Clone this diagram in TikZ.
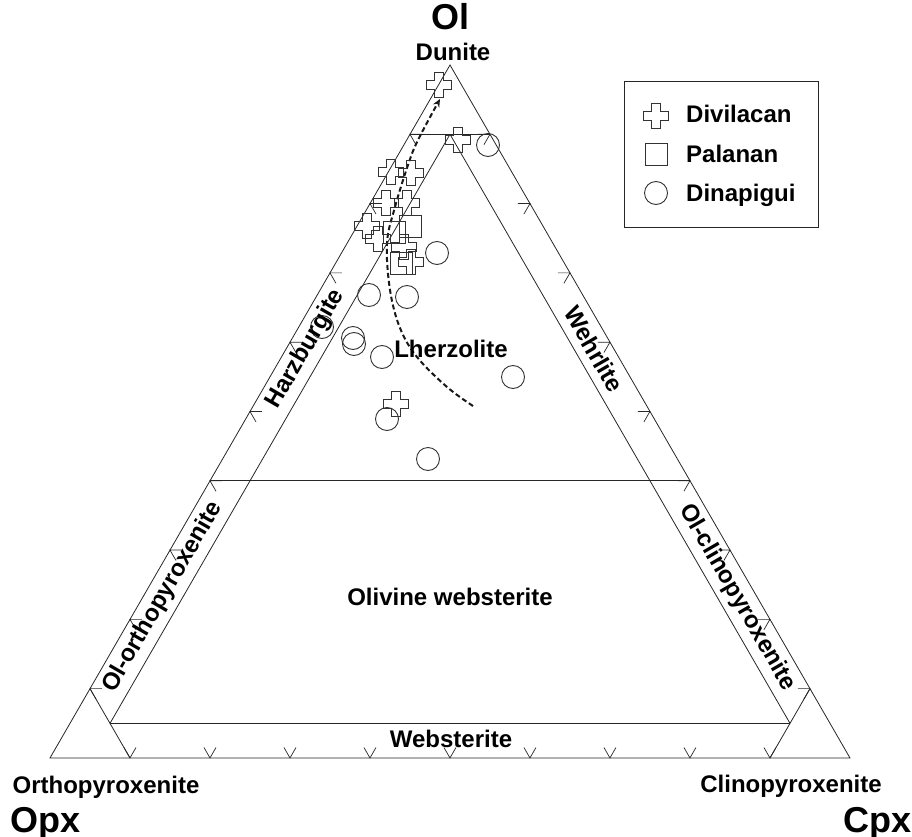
\documentclass[tikz,border=0pt]{standalone}
\usepackage{fontspec}
\setmainfont{Liberation Sans}
\usetikzlibrary{arrows.meta}
\tikzset{frame/.style={black!85, line width=0.8pt}, tick/.style={black!85, line width=0.7pt}}
\tikzset{field/.style={font=\bfseries\fontsize{24}{24}\selectfont, inner sep=0pt},
  apexlab/.style={font=\bfseries\fontsize{36}{36}\selectfont, inner sep=0pt}}
\tikzset{dina/.style={circle, draw=black!80, line width=0.9pt, minimum size=23pt, inner sep=0pt},
  pala/.style={rectangle, draw=black!80, line width=0.9pt, minimum size=22pt, inner sep=0pt},
  divi/.pic={\draw[black!80, line width=0.9pt] (-4.25,-12.5) -- (4.25,-12.5) -- (4.25,-4.25) -- (12.5,-4.25)
    -- (12.5,4.25) -- (4.25,4.25) -- (4.25,12.5) -- (-4.25,12.5) -- (-4.25,4.25) -- (-12.5,4.25)
    -- (-12.5,-4.25) -- (-4.25,-4.25) -- cycle;},
  trend/.style={black!90, line width=2pt, dash pattern=on 5pt off 3pt, -{Stealth[length=8pt,width=7pt]}}}

\begin{document}
\begin{tikzpicture}[x=1pt, y=-1pt]
  \useasboundingbox (0,0) rectangle (912,837);
  % corners
  \coordinate (ol) at (450,65);
  \coordinate (opx) at (50,758);
  \coordinate (cpx) at (850,758);
  \draw[frame] (ol) -- (opx) -- (cpx) -- cycle;
  % field boundaries
  \coordinate (l90) at (barycentric cs:ol=0.9,opx=0.1,cpx=0);
  \coordinate (r90) at (barycentric cs:ol=0.9,opx=0,cpx=0.1);
  \coordinate (t90) at (barycentric cs:ol=0.9,opx=0.05,cpx=0.05);
  \coordinate (l40) at (barycentric cs:ol=0.4,opx=0.6,cpx=0);
  \coordinate (r40) at (barycentric cs:ol=0.4,opx=0,cpx=0.6);
  \coordinate (l5) at (barycentric cs:ol=0.05,opx=0.9,cpx=0.05);
  \coordinate (r5) at (barycentric cs:ol=0.05,opx=0.05,cpx=0.9);
  \coordinate (opxa) at (barycentric cs:ol=0.1,opx=0.9,cpx=0);
  \coordinate (opxb) at (barycentric cs:ol=0,opx=0.9,cpx=0.1);
  \coordinate (cpxa) at (barycentric cs:ol=0.1,opx=0,cpx=0.9);
  \coordinate (cpxb) at (barycentric cs:ol=0,opx=0.1,cpx=0.9);
  \draw[frame] (l90) -- (r90);
  \draw[frame] (l40) -- (r40);
  \draw[frame] (l5) -- (r5);
  \draw[frame] (t90) -- (l5);
  \draw[frame] (t90) -- (r5);
  \draw[frame] (opxa) -- (opxb);
  \draw[frame] (cpxa) -- (cpxb);
  % ticks
  \foreach \i in {1,...,9}{
    \pgfmathtruncatemacro{\j}{10-\i}
    \draw[tick] (barycentric cs:ol=\i,opx=\j,cpx=0) +(12,0) -- +(0,0) -- +(6,10.4);
    \draw[tick] (barycentric cs:ol=\i,opx=0,cpx=\j) +(-12,0) -- +(0,0) -- +(-6,10.4);
    \draw[tick] (barycentric cs:ol=0,opx=\j,cpx=\i) +(-6,-10.4) -- +(0,0) -- +(6,-10.4);
  }
  % trend
  \draw[trend] plot[smooth, tension=0.6] coordinates {(473,406) (447,387) (417,357) (400,328) (390,290)
    (387,243) (395,207) (408,165) (418,140) (440,99)};
  % samples
  \foreach \x/\y [count=\n] in {488/145, 437/253, 369/295, 407/297, 322/327, 353/338, 354/344,
    382/357, 513/377, 387/419, 428/459}
    \node[dina] (d\n) at (\x,\y) {};
  \foreach \x/\y [count=\n] in {410/226, 394/232, 401/263}
    \node[pala] (p\n) at (\x,\y) {};
  \foreach \x/\y [count=\n] in {439/85, 458/140, 391/172, 411/173, 386/203, 407/203, 367/226,
    378/239, 404/247, 411/262, 396/404}
    \pic (v\n) at (\x,\y) {divi};
  % labels
  \node[apexlab, anchor=base] (olname) at (450,30) {Ol};
  \node[apexlab, anchor=base west] (opxname) at (10,832) {Opx};
  \node[apexlab, anchor=base east] (cpxname) at (912,832) {Cpx};
  \node[field, anchor=base] (dun) at (453,61) {Dunite};
  \node[field, anchor=base] (orth) at (106,793) {Orthopyroxenite};
  \node[field, anchor=base] (clin) at (791,792) {Clinopyroxenite};
  \node[field, anchor=base] (lhz) at (451,357) {Lherzolite};
  \node[field, anchor=base] (olweb) at (450,605) {Olivine websterite};
  \node[field, anchor=base] (web) at (451,747) {Websterite};
  \node[field, rotate=60] (hzb) at (barycentric cs:ol=0.59,opx=0.385,cpx=0.025) {Harzburgite};
  \node[field, rotate=-60] (weh) at (barycentric cs:ol=0.59,opx=0.025,cpx=0.385) {Wehrlite};
  \node[field, rotate=60] (olorth) at (barycentric cs:ol=0.232,opx=0.743,cpx=0.025) {Ol-orthopyroxenite};
  \node[field, rotate=-60] (olclin) at (barycentric cs:ol=0.232,opx=0.025,cpx=0.743) {Ol-clinopyroxenite};
  % legend
  \draw[frame] (624,81) rectangle (818,227);
  \pic (kv) at (656,116) {divi};
  \node[pala] (kp) at (656,154) {};
  \node[dina] (kd) at (656,193) {};
  \node[field, anchor=base west] (kvt) at (686,123) {Divilacan};
  \node[field, anchor=base west] (kpt) at (686,163) {Palanan};
  \node[field, anchor=base west] (kdt) at (686,201) {Dinapigui};
\end{tikzpicture}
\end{document}
